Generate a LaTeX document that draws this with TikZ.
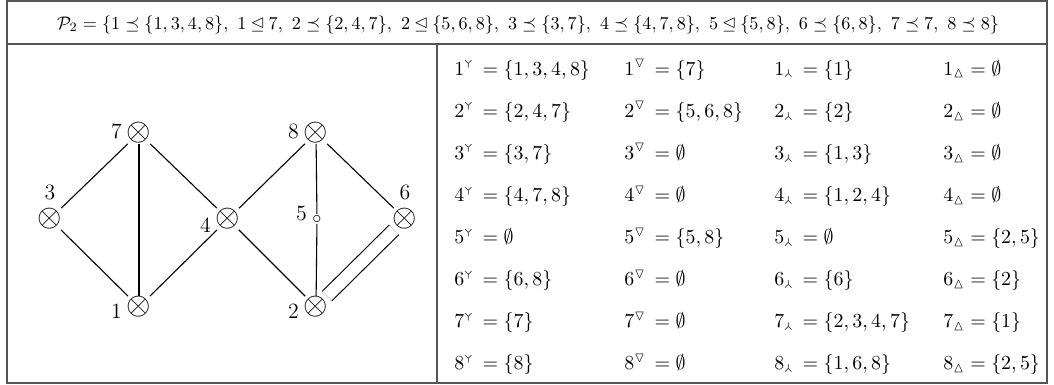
\documentclass[tikz,border=0pt]{standalone}
\usepackage{amsmath,amssymb,stmaryrd}
\usepackage{tikz}
\usetikzlibrary{positioning}
\definecolor{rule}{HTML}{555555}
\newcommand{\setof}[1]{\{#1\}}
\newcommand{\otnode}{{\LARGE$\otimes$}}

\begin{document}
\begin{tikzpicture}[x=0.55pt,y=-0.55pt,
  vtx/.style={inner sep=0pt},
  lbl/.style={font=\large},
  lft/.style={lbl,label distance=-1pt},
  edge/.style={line width=0.6pt},
  cell/.style={anchor=base west,inner sep=0pt,font=\fontsize{10.95}{13}\selectfont}]
  \useasboundingbox (0,0) rectangle (1054,385);
  \draw[rule,line width=0.8pt] (7,1) rectangle (1047,383);
  \draw[rule,line width=0.8pt] (7,44) -- (1047,44) (437,44) -- (437,383);

  \node[anchor=base] (hdr) at (528,29) {$\mathcal{P}_2=\{1\preceq\setof{1,3,4,8},\ 1\unlhd 7,\ 2\preceq\setof{2,4,7},\ 2\unlhd\setof{5,6,8},\ 3\preceq\setof{3,7},\ 4\preceq\setof{4,7,8},\ 5\unlhd\setof{5,8},\ 6\preceq\setof{6,8},\ 7\preceq 7,\ 8\preceq 8\}$};

  \node[vtx,label={[lft,yshift=1pt]left:$7$}] (n7) at (139,133) {\otnode};
  \node[vtx,label={[lft,yshift=1pt]left:$8$}] (n8) at (316,133) {\otnode};
  \node[vtx,label={[lbl,label distance=1pt]above:$3$}] (n3) at (50,219) {\otnode};
  \node[vtx,label={[lft,yshift=-3.3pt]left:$4$}] (n4) at (228,219) {\otnode};
  \node[vtx,inner sep=0.4pt,label={[lft,yshift=3.3pt]left:$5$}] (n5) at (317,219) {$\circ$};
  \node[vtx,label={[lbl,label distance=1pt]above:$6$}] (n6) at (405,219) {\otnode};
  \node[vtx,label={[lft,yshift=-2.7pt]left:$1$}] (n1) at (139,307) {\otnode};
  \node[vtx,label={[lft,yshift=-2.7pt]left:$2$}] (n2) at (316,307) {\otnode};

  \foreach \a/\b in {3/7,3/1,7/1,7/4,1/4,4/8,4/2,8/5,5/2,8/6}
    \draw[edge] (n\a) -- (n\b);
  \draw[edge,double,double distance=6.8pt] (n2) -- (n6);

  \foreach \i/\a/\b/\c/\d in {1/{\setof{1,3,4,8}}/{\setof{7}}/{\setof{1}}/\emptyset,
      2/{\setof{2,4,7}}/{\setof{5,6,8}}/{\setof{2}}/\emptyset,
      3/{\setof{3,7}}/\emptyset/{\setof{1,3}}/\emptyset,
      4/{\setof{4,7,8}}/\emptyset/{\setof{1,2,4}}/\emptyset,
      5/\emptyset/{\setof{5,8}}/\emptyset/{\setof{2,5}},
      6/{\setof{6,8}}/\emptyset/{\setof{6}}/{\setof{2}},
      7/{\setof{7}}/\emptyset/{\setof{2,3,4,7}}/{\setof{1}},
      8/{\setof{8}}/\emptyset/{\setof{1,6,8}}/{\setof{2,5}}}{
    \node[cell] (up\i) at (454,{32.9+42.1*\i}) {$\i^{\Ydown}\,=\a$};
    \node[cell] (dn\i) at (624,{32.9+42.1*\i}) {$\i^{\triangledown}\,=\b$};
    \node[cell] (lo\i) at (774,{32.9+42.1*\i}) {$\i_{\Yup}\,=\c$};
    \node[cell] (tr\i) at (943,{32.9+42.1*\i}) {$\i_{\vartriangle}=\d$};
  }
\end{tikzpicture}
\end{document}
